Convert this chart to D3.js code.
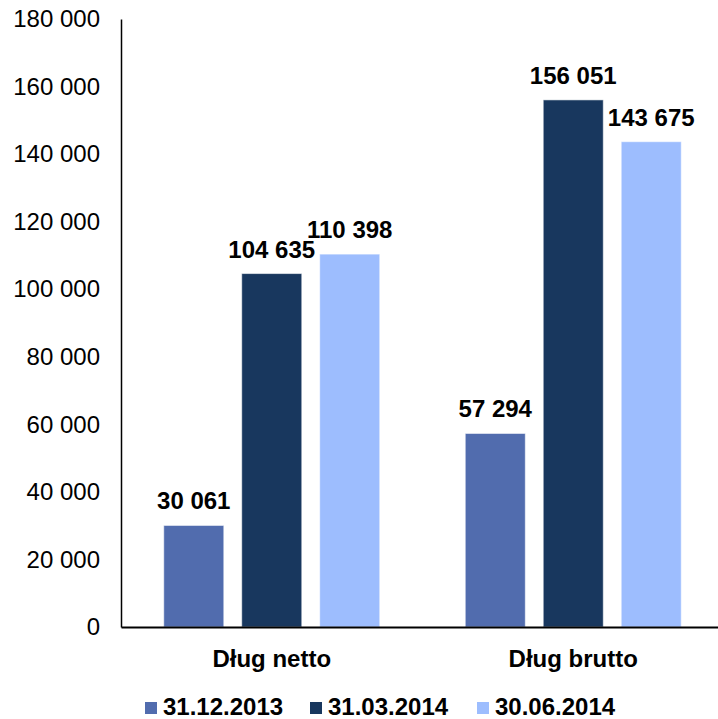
<!DOCTYPE html>
<html>
<head>
<meta charset="utf-8">
<script src="https://cdn.jsdelivr.net/npm/d3@7"></script>
<style>
  body { margin: 0; background: #fff; }
  text { font-family: "Liberation Sans", Arial, sans-serif; }
</style>
</head>
<body>
<div id="chart"></div>
<script>
// Dane
const categories = ["Dług netto", "Dług brutto"];
const seriesNames = ["31.12.2013", "31.03.2014", "30.06.2014"];
const values2013_12 = [30061, 57294];
const values2014_03 = [104635, 156051];
const values2014_06 = [110398, 143675];
const yTicks = [0, 20000, 40000, 60000, 80000, 100000, 120000, 140000, 160000, 180000];
const colors = ["#516cae", "#18375e", "#9dbdfe"];

const seriesValues = [values2013_12, values2014_03, values2014_06];

const W = 718, H = 719;
const margin = { top: 19, right: -6, bottom: 92, left: 121 };
const width = W - margin.left - margin.right;
const height = H - margin.top - margin.bottom;

// Format liczb: spacja jako separator tysięcy
const fmt = d => d3.format(",")(d).replace(/,/g, " ");

const svg = d3.select("#chart")
    .append("svg")
    .attr("width", W)
    .attr("height", H);

const g = svg.append("g")
    .attr("transform", `translate(${margin.left},${margin.top})`);

// Skale
const x0 = d3.scaleBand()
    .domain(categories)
    .range([0, width])
    .paddingInner(0)
    .paddingOuter(0);

const x1 = d3.scaleBand()
    .domain(seriesNames)
    .range([42.75, x0.bandwidth() - 42.75])
    .paddingInner(0.23)
    .paddingOuter(0);

const y = d3.scaleLinear()
    .domain([0, 180000])
    .range([height, 0]);

// Dane płaskie
const flat = [];
categories.forEach((c, i) => {
    seriesNames.forEach((s, j) => {
        flat.push({ cat: c, series: s, value: seriesValues[j][i], color: colors[j] });
    });
});

// Słupki
g.selectAll(".bar")
    .data(flat)
    .enter()
    .append("rect")
    .attr("class", "bar")
    .attr("x", d => x0(d.cat) + x1(d.series))
    .attr("y", d => y(d.value))
    .attr("width", x1.bandwidth())
    .attr("height", d => height - y(d.value))
    .attr("fill", d => d.color)
    .attr("stroke", "rgba(255,255,255,0.55)")
    .attr("stroke-width", 1);

// Etykiety wartości
g.selectAll(".label")
    .data(flat)
    .enter()
    .append("text")
    .attr("class", "label")
    .attr("x", d => x0(d.cat) + x1(d.series) + x1.bandwidth() / 2)
    .attr("y", d => y(d.value) - 16)
    .attr("text-anchor", "middle")
    .attr("font-size", "24px")
    .attr("font-weight", "bold")
    .attr("fill", "#000")
    .text(d => fmt(d.value));

// Oś Y
const yAxis = g.append("g")
    .call(d3.axisLeft(y).tickValues(yTicks).tickFormat(fmt).tickSize(0).tickPadding(21));
yAxis.select(".domain").attr("stroke", "#000").attr("stroke-width", 1.5);
yAxis.selectAll("text").attr("font-size", "24px").attr("fill", "#000")
    .style("font-family", "'Liberation Sans', Arial, sans-serif");

// Oś X
const xAxis = g.append("g")
    .attr("transform", `translate(0,${height})`)
    .call(d3.axisBottom(x0).tickSize(0).tickPadding(23));
xAxis.select(".domain").attr("stroke", "#000").attr("stroke-width", 2);
xAxis.selectAll("text").attr("font-size", "24px").attr("font-weight", "bold").attr("fill", "#000")
    .style("font-family", "'Liberation Sans', Arial, sans-serif");

// Legenda
const legendX = [145, 310, 477];
const legend = svg.selectAll(".legend")
    .data(seriesNames)
    .enter()
    .append("g")
    .attr("class", "legend")
    .attr("transform", (d, i) => `translate(${legendX[i]},702)`);

legend.append("rect")
    .attr("width", 12)
    .attr("height", 12)
    .attr("fill", (d, i) => colors[i]);

legend.append("text")
    .attr("x", 18)
    .attr("y", 13)
    .attr("font-size", "24px")
    .attr("font-weight", "bold")
    .attr("fill", "#000")
    .text(d => d);
</script>
</body>
</html>
